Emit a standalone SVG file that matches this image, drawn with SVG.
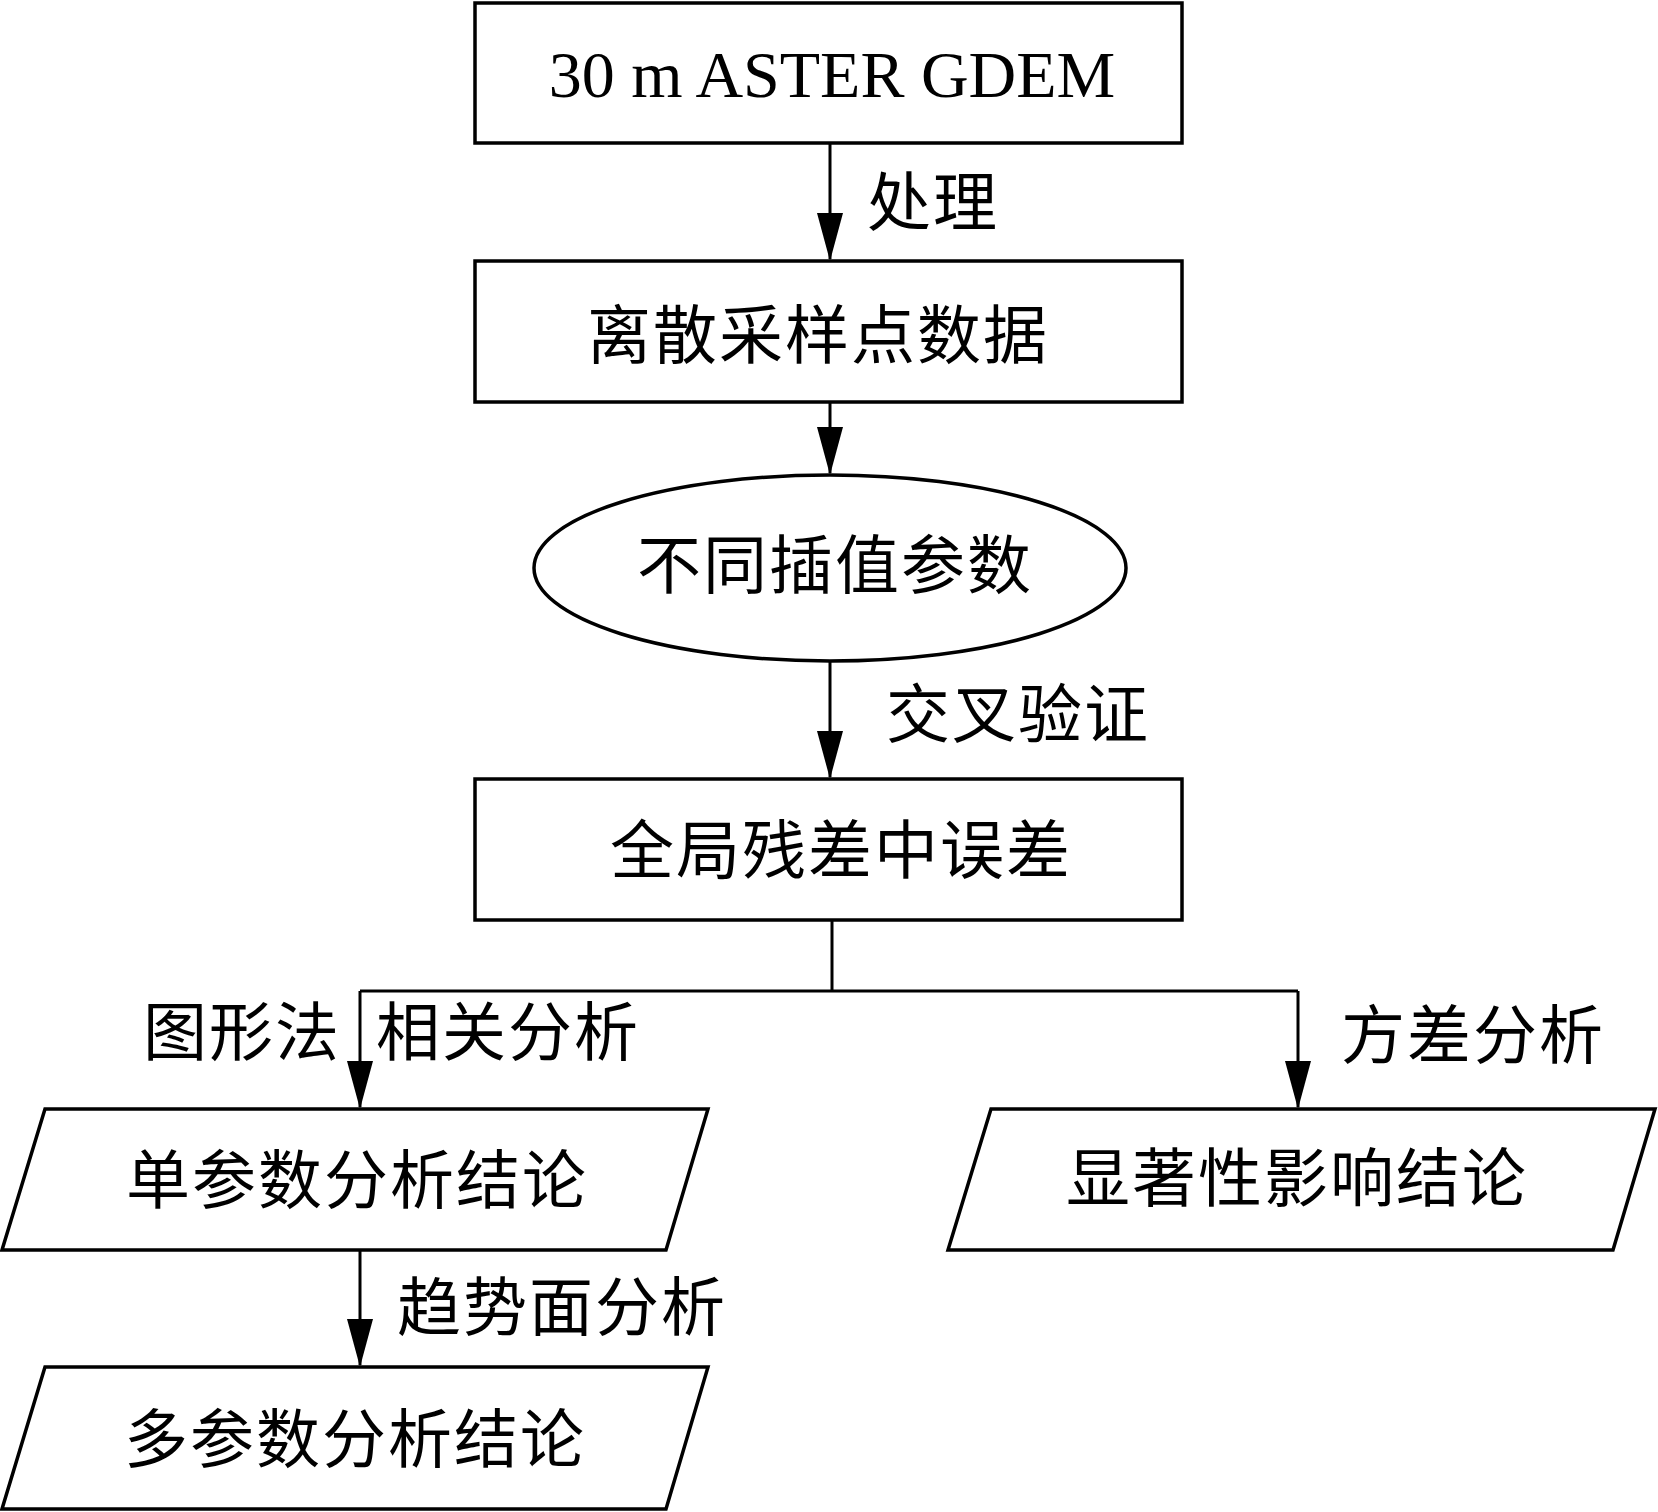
<svg xmlns="http://www.w3.org/2000/svg" width="1658" height="1512" viewBox="0 0 1658 1512">
<style>
.shape{fill:#fff;stroke:#000;stroke-width:3.5}
.line{fill:none;stroke:#000;stroke-width:3}
.cjk{font-family:"Liberation Serif","Noto Sans CJK SC",serif;font-size:64px;letter-spacing:2px;fill:#000}
.lat{font-family:"Liberation Serif","Noto Sans CJK SC",serif;font-size:66px;fill:#000}
.mid{text-anchor:middle}
</style>
<defs>
<marker id="arrv" markerUnits="userSpaceOnUse" markerWidth="48" markerHeight="26" viewBox="0 0 48 26" refX="46" refY="13" orient="auto">
<path d="M0,0 L48,13 L0,26 Z" fill="#000"/>
</marker>
</defs>
<rect width="1658" height="1512" fill="#fff"/>
<g id="connectors">
<line class="line" x1="830" y1="143" x2="830" y2="259" marker-end="url(#arrv)"/>
<line class="line" x1="830" y1="402" x2="830" y2="473" marker-end="url(#arrv)"/>
<line class="line" x1="830" y1="661" x2="830" y2="777" marker-end="url(#arrv)"/>
<polyline class="line" points="832,920 832,991"/>
<polyline class="line" points="360,991 1298,991"/>
<line class="line" x1="360" y1="991" x2="360" y2="1107" marker-end="url(#arrv)"/>
<line class="line" x1="1298" y1="991" x2="1298" y2="1107" marker-end="url(#arrv)"/>
<line class="line" x1="360" y1="1250" x2="360" y2="1365" marker-end="url(#arrv)"/>
</g>
<g id="label-chuli"><text class="cjk" x="867" y="225">处理</text></g>
<g id="label-jiaocha"><text class="cjk" x="886" y="737">交叉验证</text></g>
<g id="label-tuxing"><text class="cjk" x="143" y="1055">图形法</text></g>
<g id="label-xiangguan"><text class="cjk" x="376" y="1055">相关分析</text></g>
<g id="label-fangcha"><text class="cjk" x="1341" y="1058">方差分析</text></g>
<g id="label-qushi"><text class="cjk" x="397" y="1330">趋势面分析</text></g>
<g id="node-gdem">
<rect class="shape" x="475" y="3" width="707" height="140"/>
<text class="lat mid" x="832" y="97">30 m ASTER GDEM</text>
</g>
<g id="node-lisan">
<rect class="shape" x="475" y="261" width="707" height="141"/>
<text class="cjk mid" x="818" y="358">离散采样点数据</text>
</g>
<g id="node-butong">
<ellipse class="shape" cx="830" cy="568" rx="296" ry="93"/>
<text class="cjk mid" x="835" y="588">不同插值参数</text>
</g>
<g id="node-quanju">
<rect class="shape" x="475" y="779" width="707" height="141"/>
<text class="cjk mid" x="841" y="873">全局残差中误差</text>
</g>
<g id="node-dancanshu">
<polygon class="shape" points="45,1109 708,1109 666,1250 2,1250"/>
<text class="cjk mid" x="357" y="1203">单参数分析结论</text>
</g>
<g id="node-xianzhu">
<polygon class="shape" points="991,1109 1655,1109 1613,1250 948,1250"/>
<text class="cjk mid" x="1297" y="1201">显著性影响结论</text>
</g>
<g id="node-duocanshu">
<polygon class="shape" points="45,1367 708,1367 666,1509 2,1509"/>
<text class="cjk mid" x="355" y="1462">多参数分析结论</text>
</g>
</svg>
